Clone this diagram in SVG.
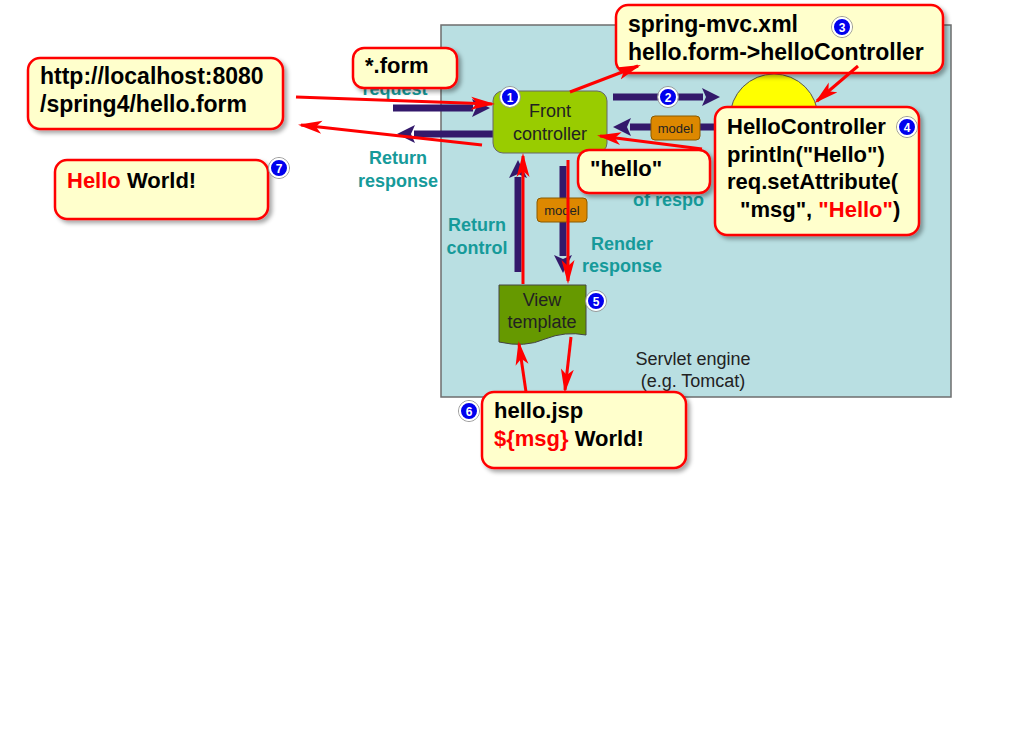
<svg xmlns="http://www.w3.org/2000/svg" width="1024" height="738" viewBox="0 0 1024 738">
<style>
.call{fill:#FFFFCC;stroke:#FF0000;stroke-width:2.5;filter:url(#sh)}
.ct{font-family:"Liberation Sans",Arial,sans-serif;font-weight:bold;font-size:22px;fill:#000}
.big{font-size:23px}
.red{fill:#FF0000}
.lbl{font-family:"Liberation Sans",Arial,sans-serif;font-weight:bold;font-size:18px;fill:#169A9A;text-anchor:middle}
.nt{font-family:"Liberation Sans",Arial,sans-serif;font-size:18px;fill:#222;text-anchor:middle}
.pa{stroke:#33196B;stroke-width:7;fill:none;marker-end:url(#ph)}
.ra{stroke:#FF0000;stroke-width:3;fill:none;marker-end:url(#rh)}
.model{fill:#DD8800;stroke:#8A5A00;stroke-width:1}
.mt{font-family:"Liberation Sans",Arial,sans-serif;font-size:13px;fill:#222;text-anchor:middle}
.bc{fill:#0000EE;stroke:#fff;stroke-width:2}
.bo{fill:none;stroke:#999;stroke-width:1}
.bt{font-family:"Liberation Sans",Arial,sans-serif;font-weight:bold;font-size:12px;fill:#fff;text-anchor:middle}
</style>
<defs>
<filter id="sh" x="-10%" y="-10%" width="125%" height="130%">
<feDropShadow dx="3" dy="3" stdDeviation="2" flood-color="#000" flood-opacity="0.35"/>
</filter>
<marker id="ph" viewBox="0 -9 18 18" refX="1" refY="0" markerWidth="18" markerHeight="18" markerUnits="userSpaceOnUse" orient="auto">
<path d="M0,-9 L18,0 L0,9 L4,0 z" fill="#33196B"/>
</marker>
<marker id="rh" viewBox="0 -7 24 14" refX="21" refY="0" markerWidth="24" markerHeight="14" markerUnits="userSpaceOnUse" orient="auto">
<path d="M0,-6.5 L24,0 L0,6.5 L6,0 z" fill="#FF0000"/>
</marker>
</defs>
<rect x="0" y="0" width="1024" height="738" fill="#FFFFFF"/>
<g id="servlet-engine">
<rect x="441" y="25" width="510" height="372" fill="#B9DFE2" stroke="#6E6E6E" stroke-width="1.5"/>
<text class="nt" x="693" y="365">Servlet engine</text>
<text class="nt" x="693" y="387">(e.g. Tomcat)</text>
</g>
<g id="labels">
<text class="lbl" x="395" y="95">request</text>
<text class="lbl" x="398" y="164">Return</text>
<text class="lbl" x="398" y="187">response</text>
<text class="lbl" x="477" y="231">Return</text>
<text class="lbl" x="477" y="254">control</text>
<text class="lbl" x="622" y="250">Render</text>
<text class="lbl" x="622" y="272">response</text>
<text class="lbl" x="633" y="206" style="text-anchor:start">of respo</text>
</g>
<g id="flow-arrows">
<line class="pa" x1="393" y1="108" x2="473" y2="108"/>
<line class="pa" x1="493" y1="134" x2="414" y2="134"/>
<line class="pa" x1="613" y1="97" x2="703" y2="97"/>
<line class="pa" x1="716" y1="127" x2="630" y2="127"/>
<line class="pa" x1="518" y1="272" x2="518" y2="177"/>
<line class="pa" x1="563" y1="166" x2="563" y2="256"/>
</g>
<g id="controller">
<circle cx="774" cy="118" r="44" fill="#FFFF00" stroke="#555" stroke-width="1"/>
</g>
<g id="front-controller">
<rect x="493" y="91" width="114" height="62" rx="10" fill="#99CC00" stroke="#666" stroke-width="1"/>
<text class="nt" x="550" y="117">Front</text>
<text class="nt" x="550" y="140">controller</text>
</g>
<g id="view-template">
<path d="M499,285 L586,285 L586,335 Q565,331 545,339 Q525,348 499,342 Z" fill="#669900" stroke="#444" stroke-width="1"/>
<text class="nt" x="542" y="306">View</text>
<text class="nt" x="542" y="328">template</text>
</g>
<g id="model-1">
<rect class="model" x="651" y="116" width="49" height="24" rx="4"/>
<text class="mt" x="675.5" y="133">model</text>
</g>
<g id="model-2">
<rect class="model" x="537" y="198" width="50" height="24" rx="4"/>
<text class="mt" x="562" y="215">model</text>
</g>
<g id="url-note">
<rect class="call" x="28" y="58" width="255" height="71" rx="12"/>
<text class="ct big" x="40" y="84">http://localhost:8080</text>
<text class="ct big" x="40" y="112">/spring4/hello.form</text>
</g>
<g id="form-note">
<rect class="call" x="353" y="48" width="104" height="40" rx="11"/>
<text class="ct" x="365" y="73">*.form</text>
</g>
<g id="result-note">
<rect class="call" x="55" y="160" width="213" height="59" rx="12"/>
<text class="ct" x="67" y="188"><tspan class="red">Hello</tspan> World!</text>
</g>
<g id="spring-note">
<rect class="call" x="616" y="5" width="327" height="68" rx="12"/>
<text class="ct big" x="628" y="32">spring-mvc.xml</text>
<text class="ct big" x="628" y="60">hello.form-&gt;helloController</text>
</g>
<g id="hello-note">
<rect class="call" x="578" y="150" width="132" height="43" rx="11"/>
<text class="ct" x="590" y="176">"hello"</text>
</g>
<g id="controller-note">
<rect class="call" x="715" y="107" width="204" height="128" rx="12"/>
<text class="ct" x="727" y="134">HelloController</text>
<text class="ct" x="727" y="162">println("Hello")</text>
<text class="ct" x="727" y="189">req.setAttribute(</text>
<text class="ct" x="740" y="217">"msg", <tspan class="red">"Hello"</tspan>)</text>
</g>
<g id="jsp-note">
<rect class="call" x="482" y="392" width="204" height="76" rx="12"/>
<text class="ct" x="494" y="418">hello.jsp</text>
<text class="ct" x="494" y="446"><tspan class="red">${msg}</tspan> World!</text>
</g>
<g id="connectors">
<line class="ra" x1="296" y1="97" x2="492" y2="104"/>
<line class="ra" x1="482" y1="145" x2="301" y2="125"/>
<line class="ra" x1="570" y1="92" x2="638" y2="66"/>
<line class="ra" x1="858" y1="66" x2="817" y2="101"/>
<line class="ra" x1="702" y1="149" x2="600" y2="136"/>
<line class="ra" x1="523" y1="284" x2="523" y2="156"/>
<line class="ra" x1="568" y1="160" x2="568" y2="281"/>
<line class="ra" x1="526" y1="392" x2="519" y2="344"/>
<line class="ra" x1="571" y1="337" x2="565" y2="390"/>
</g>
<g id="badges">
<g id="badge-1"><circle class="bo" cx="510" cy="97" r="10.5"/><circle class="bc" cx="510" cy="97" r="9"/><text class="bt" x="510" y="101.5">1</text></g>
<g id="badge-2"><circle class="bo" cx="668" cy="97" r="10.5"/><circle class="bc" cx="668" cy="97" r="9"/><text class="bt" x="668" y="101.5">2</text></g>
<g id="badge-3"><circle class="bo" cx="842" cy="27" r="10.5"/><circle class="bc" cx="842" cy="27" r="9"/><text class="bt" x="842" y="31.5">3</text></g>
<g id="badge-4"><circle class="bo" cx="907" cy="127" r="10.5"/><circle class="bc" cx="907" cy="127" r="9"/><text class="bt" x="907" y="131.5">4</text></g>
<g id="badge-5"><circle class="bo" cx="596" cy="301" r="10.5"/><circle class="bc" cx="596" cy="301" r="9"/><text class="bt" x="596" y="305.5">5</text></g>
<g id="badge-6"><circle class="bo" cx="469" cy="411" r="10.5"/><circle class="bc" cx="469" cy="411" r="9"/><text class="bt" x="469" y="415.5">6</text></g>
<g id="badge-7"><circle class="bo" cx="279" cy="168" r="10.5"/><circle class="bc" cx="279" cy="168" r="9"/><text class="bt" x="279" y="172.5">7</text></g>
</g>
</svg>
